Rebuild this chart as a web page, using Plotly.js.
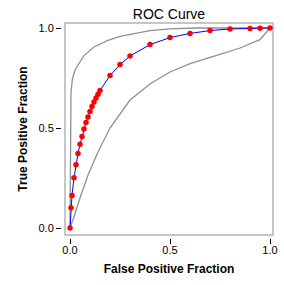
<!DOCTYPE html>
<html>
<head>
<meta charset="utf-8">
<script src="https://cdn.plot.ly/plotly-3.0.1.min.js"></script>
<style>html,body{margin:0;padding:0;background:#fff;}#chart{width:284px;height:285px;}</style>
</head>
<body>
<div id="chart"></div>
<script>
// ROC curve points (false positive fraction, true positive fraction)
const rocX = [0, 0.005, 0.01, 0.02, 0.03, 0.04, 0.05, 0.06, 0.07, 0.08, 0.09, 0.10, 0.11, 0.12, 0.13, 0.14, 0.15, 0.2, 0.25, 0.3, 0.4, 0.5, 0.6, 0.7, 0.8, 0.9, 0.95, 1.0];
const rocY = [0, 0.101, 0.163, 0.251, 0.316, 0.372, 0.419, 0.458, 0.495, 0.527, 0.555, 0.583, 0.608, 0.630, 0.650, 0.669, 0.688, 0.762, 0.817, 0.860, 0.917, 0.952, 0.973, 0.987, 0.995, 0.998, 0.999, 1.0];
// Upper confidence band
const upperX = [0, 0.002, 0.005, 0.012, 0.025, 0.04, 0.07, 0.12, 0.19, 0.25, 0.32, 0.4, 0.5, 0.63, 1.0];
const upperY = [0, 0.55, 0.68, 0.745, 0.79, 0.815, 0.862, 0.905, 0.938, 0.958, 0.973, 0.987, 0.996, 1.0, 1.0];
// Lower confidence band
const lowerX = [0, 0.02, 0.05, 0.09, 0.14, 0.2, 0.3, 0.4, 0.5, 0.6, 0.73, 0.85, 0.95, 1.0];
const lowerY = [0, 0.055, 0.15, 0.265, 0.38, 0.5, 0.64, 0.72, 0.78, 0.822, 0.862, 0.9, 0.942, 1.0];
// Tick labels
const tickVals = [0, 0.5, 1.0];
const tickText = ['0.0', '0.5', '1.0'];

const grayLine = {color: '#8f8f8f', width: 1.3};
const traces = [
  {x: upperX, y: upperY, mode: 'lines', line: grayLine, hoverinfo: 'skip'},
  {x: lowerX, y: lowerY, mode: 'lines', line: grayLine, hoverinfo: 'skip'},
  {x: rocX, y: rocY, mode: 'lines+markers', line: {color: '#0000ff', width: 1},
   marker: {color: '#ff0000', size: 5.5}}
];

const axisCommon = {
  tickvals: tickVals, ticktext: tickText,
  ticks: 'outside', ticklen: 5, tickwidth: 1, tickcolor: '#000',
  showgrid: false, zeroline: false, showline: false,
  tickfont: {family: 'Liberation Sans, Arial, sans-serif', size: 11, color: '#000'},
  fixedrange: true
};

const layout = {
  width: 284, height: 285,
  margin: {l: 62, r: 8, t: 20, b: 47},
  paper_bgcolor: '#fff', plot_bgcolor: '#fff',
  showlegend: false,
  title: {text: 'ROC Curve', x: 0.5, xref: 'paper', xanchor: 'center',
          y: 0.95, yref: 'container', yanchor: 'middle',
          font: {family: 'Liberation Sans, Arial, sans-serif', size: 14, color: '#000'}},
  xaxis: Object.assign({}, axisCommon, {
    range: [-0.04, 1.03],
    ticklabelstandoff: -3,
    title: {text: 'False Positive Fraction', standoff: 9,
            font: {family: 'Liberation Sans, Arial, sans-serif', size: 12, color: '#000', weight: 'bold'}}
  }),
  yaxis: Object.assign({}, axisCommon, {
    range: [-0.05, 1.04],
    title: {text: 'True Positive Fraction', standoff: 8,
            font: {family: 'Liberation Sans, Arial, sans-serif', size: 12, color: '#000', weight: 'bold'}}
  }),
  shapes: [{
    type: 'rect', xref: 'paper', yref: 'paper',
    x0: 3/214, x1: 211/214, y0: 3/218, y1: 215/218,
    line: {color: '#b4b4b4', width: 1.5}, layer: 'below'
  }]
};

Plotly.newPlot('chart', traces, layout, {displayModeBar: false, staticPlot: true});
</script>
</body>
</html>
